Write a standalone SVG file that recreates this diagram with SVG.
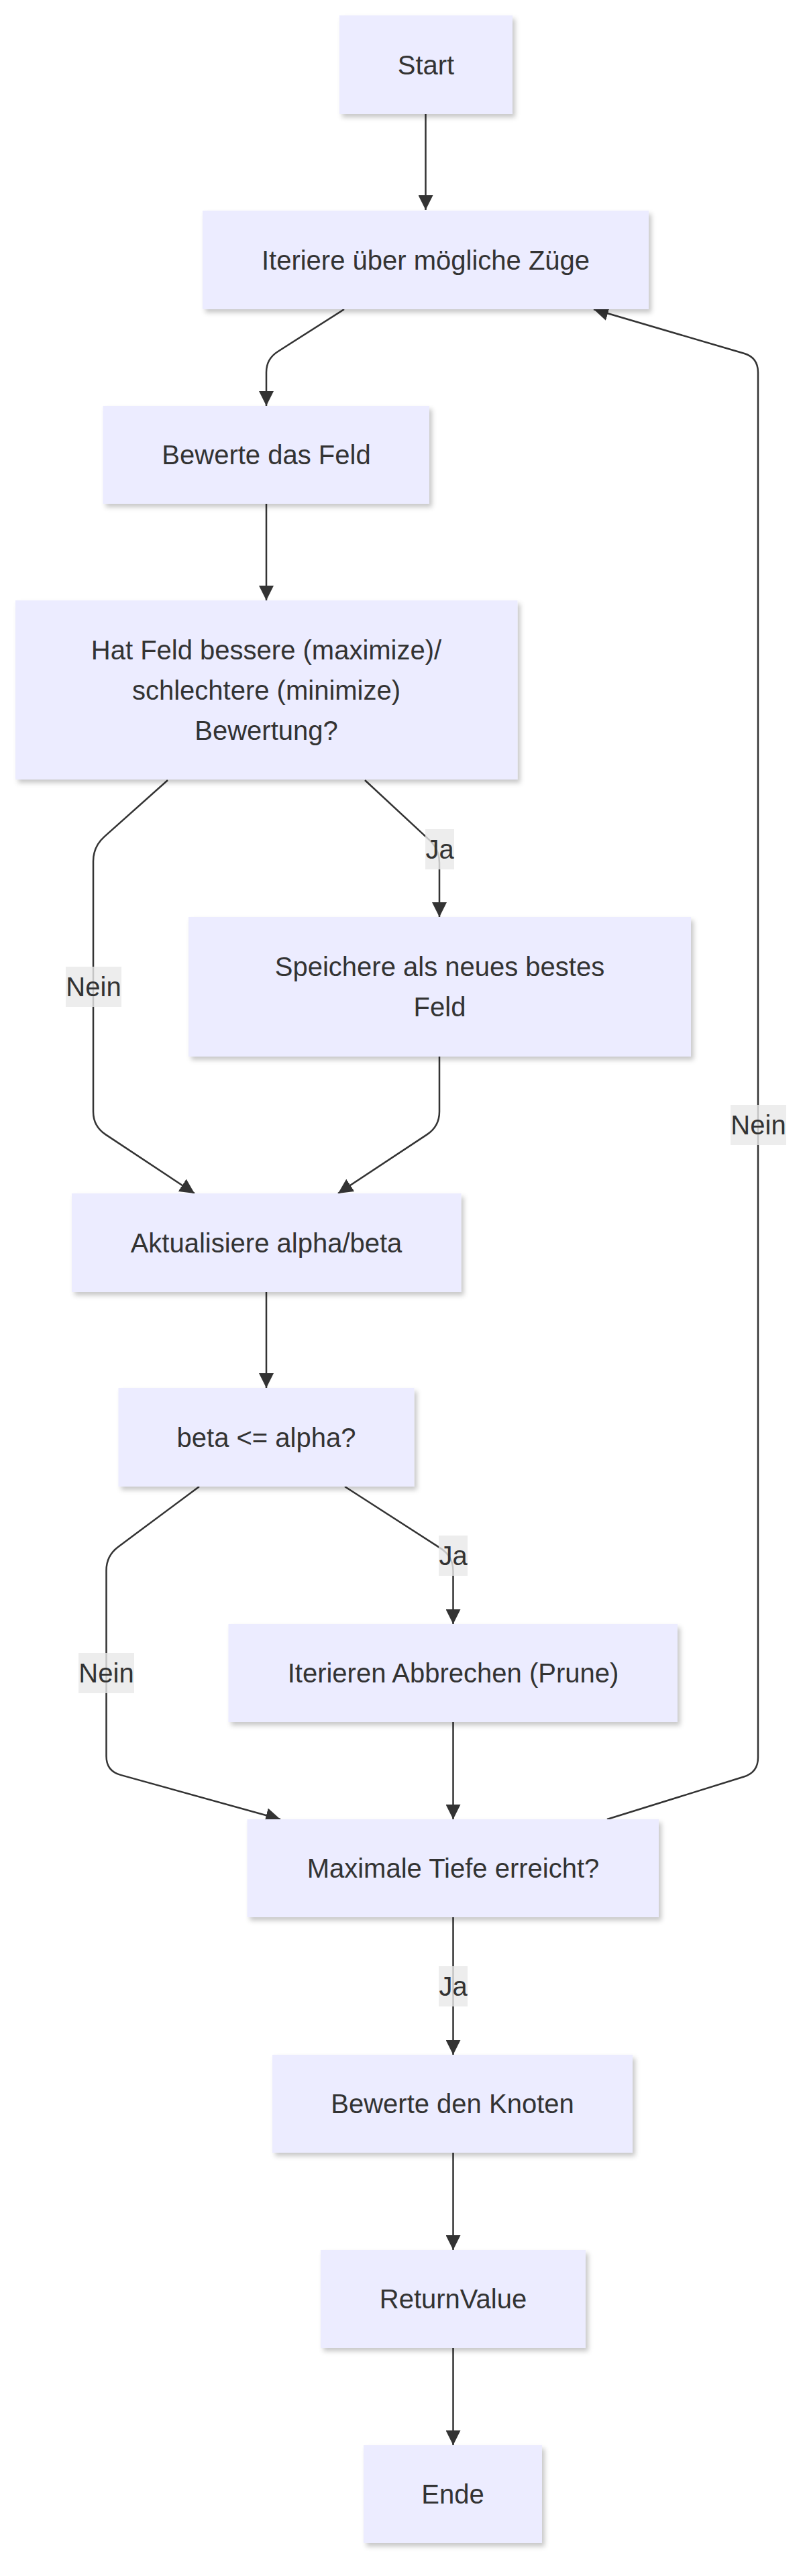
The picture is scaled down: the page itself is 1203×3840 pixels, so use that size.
<svg xmlns="http://www.w3.org/2000/svg" width="1203" height="3840" viewBox="0 0 1203 3840">
<defs>
<filter id="shadow" x="-10%" y="-20%" width="130%" height="150%">
<feDropShadow dx="4" dy="5" stdDeviation="3.5" flood-color="#000" flood-opacity="0.22"/>
</filter>
<marker id="arrow" viewBox="0 0 22 22" refX="22" refY="11" markerWidth="22" markerHeight="22" markerUnits="userSpaceOnUse" orient="auto">
<path d="M0,0 L22,11 L0,22 z" fill="#333"/>
</marker>
</defs>
<style>
.edge{fill:none;stroke:#333;stroke-width:2.5;marker-end:url(#arrow)}
.node rect{fill:#ECECFF;filter:url(#shadow)}
text{font-family:"Liberation Sans",Arial,Helvetica,sans-serif;font-size:40px;fill:#333;text-anchor:middle;dominant-baseline:central}
.lbl rect{fill:#e8e8e8;opacity:0.8}
</style>
<rect width="1203" height="3840" fill="#fff"/>
<g id="edges">
<path class="edge" d="M634.5,170 L634.5,313"/>
<path class="edge" d="M513,461 L413.9,524.2 Q397,535 397,555 L397,605"/>
<path class="edge" d="M397,751 L397,895"/>
<path class="edge" d="M544,1163 L640.3,1252.4 Q655,1266 655,1286 L655,1367"/>
<path class="edge" d="M250,1163 L155.4,1247.4 Q139,1262 139,1284 L139,1657 Q139,1679 157.3,1691.1 L290,1779"/>
<path class="edge" d="M655,1575 L655,1657 Q655,1679 636.7,1691.1 L504,1779"/>
<path class="edge" d="M397,1926 L397,2069"/>
<path class="edge" d="M514,2216 L657,2308.1 Q675.5,2320 675.5,2342 L675.5,2421"/>
<path class="edge" d="M297,2216 L176.1,2305.9 Q158.5,2319 158.5,2341 L158.5,2618 Q158.5,2640 179.7,2645.9 L418,2712"/>
<path class="edge" d="M675.5,2567 L675.5,2712"/>
<path class="edge" d="M905,2712 L1109,2648.5 Q1130,2642 1130,2620 L1130,555 Q1130,533 1108.9,526.8 L885,461"/>
<path class="edge" d="M675.5,2858 L675.5,3063"/>
<path class="edge" d="M675.5,3209 L675.5,3354"/>
<path class="edge" d="M675.5,3500 L675.5,3645"/>
</g>
<g id="edge-labels">
<g class="lbl"><rect x="634" y="1236" width="43" height="60"/><text x="655.5" y="1266">Ja</text></g>
<g class="lbl"><rect x="98" y="1441" width="83" height="60"/><text x="139.5" y="1471">Nein</text></g>
<g class="lbl"><rect x="1089" y="1647" width="83" height="60"/><text x="1130.5" y="1677">Nein</text></g>
<g class="lbl"><rect x="654" y="2289" width="43" height="60"/><text x="675.5" y="2319">Ja</text></g>
<g class="lbl"><rect x="117" y="2464" width="83" height="60"/><text x="158.5" y="2494">Nein</text></g>
<g class="lbl"><rect x="654" y="2931" width="43" height="60"/><text x="675.5" y="2961">Ja</text></g>
</g>
<g id="start" class="node"><rect x="506" y="23" width="258" height="147"/><text x="635" y="96.5">Start</text></g>
<g id="iteriere" class="node"><rect x="302" y="314" width="665" height="147"/><text x="634.5" y="387.5">Iteriere über mögliche Züge</text></g>
<g id="bewerte-feld" class="node"><rect x="153.5" y="605" width="486.5" height="146"/><text x="397" y="678">Bewerte das Feld</text></g>
<g id="hat-feld" class="node"><rect x="23" y="895" width="748.5" height="267"/><text x="397" y="968.5">Hat Feld bessere (maximize)/</text><text x="397" y="1028.5">schlechtere (minimize)</text><text x="397" y="1088.5">Bewertung?</text></g>
<g id="speichere" class="node"><rect x="281" y="1367" width="749" height="208"/><text x="655.5" y="1441">Speichere als neues bestes</text><text x="655.5" y="1501">Feld</text></g>
<g id="aktualisiere" class="node"><rect x="107" y="1779" width="580.5" height="147"/><text x="397" y="1852.5">Aktualisiere alpha/beta</text></g>
<g id="beta" class="node"><rect x="176.5" y="2069" width="441" height="147"/><text x="397" y="2142.5">beta &lt;= alpha?</text></g>
<g id="prune" class="node"><rect x="340.5" y="2421" width="669.5" height="146"/><text x="675.5" y="2494">Iterieren Abbrechen (Prune)</text></g>
<g id="maxtiefe" class="node"><rect x="368.5" y="2712" width="613.5" height="146"/><text x="675.5" y="2785">Maximale Tiefe erreicht?</text></g>
<g id="bewerte-knoten" class="node"><rect x="406" y="3063" width="537" height="146"/><text x="674.5" y="3136">Bewerte den Knoten</text></g>
<g id="returnvalue" class="node"><rect x="478" y="3354" width="395" height="146"/><text x="675.5" y="3427">ReturnValue</text></g>
<g id="ende" class="node"><rect x="542" y="3645" width="266" height="146"/><text x="675" y="3718">Ende</text></g>
</svg>
